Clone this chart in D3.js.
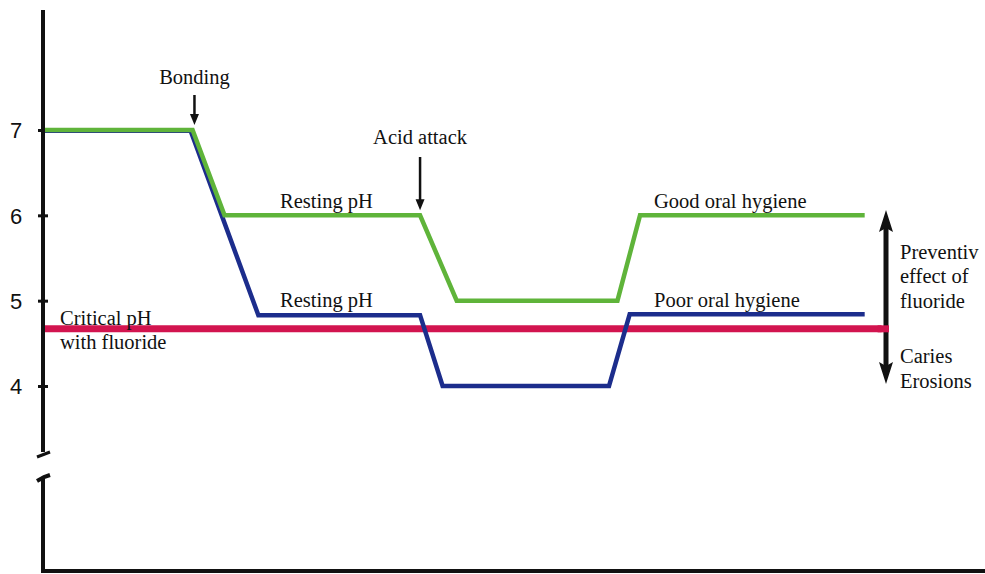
<!DOCTYPE html>
<html><head><meta charset="utf-8">
<script src="https://cdn.jsdelivr.net/npm/d3@7"></script>
<style>body{margin:0;background:#fff}svg{display:block}</style>
</head><body>
<svg id="c" width="985" height="574"></svg>
<script>
// Data
const yTicks = [4, 5, 6, 7];
const goodTime = [0, 15.7, 19.1, 39.9, 43.8, 60.9, 63.3, 87.2];
const goodPH   = [7.0, 7.0, 6.0, 6.0, 5.0, 5.0, 6.0, 6.0];
const poorTime = [0, 15.5, 22.7, 39.9, 42.3, 60.0, 62.2, 87.2];
const poorPH   = [6.99, 6.99, 4.83, 4.83, 4.0, 4.0, 4.84, 4.84];
const criticalPH = 4.67;
const criticalSpan = [0, 89];
const eventNames = ["Bonding", "Acid attack"];
const eventTimes = [15.9, 39.9];
const eventPH = [7.0, 6.0];

const svg = d3.select("#c");
const x = d3.scaleLinear().domain([0, 100]).range([45, 985]);
const y = d3.scaleLinear().domain([4, 7]).range([386, 130]);
const serif = "'Liberation Serif','Times New Roman',serif";
const fs = "20.5px";

// axes
const axX = 43;
svg.append("line").attr("x1", axX).attr("x2", axX).attr("y1", 10).attr("y2", 452)
  .attr("stroke", "#111").attr("stroke-width", 4);
svg.append("line").attr("x1", 37).attr("x2", 50).attr("y1", 457).attr("y2", 452)
  .attr("stroke", "#111").attr("stroke-width", 3);
svg.append("path").attr("d", `M37,481 L44,477 L50,475 M${axX},477 L${axX},572`)
  .attr("stroke", "#111").attr("stroke-width", 4).attr("fill", "none");
svg.append("line").attr("x1", 41).attr("x2", 985).attr("y1", 571).attr("y2", 571)
  .attr("stroke", "#111").attr("stroke-width", 4);

const yAxis = d3.axisLeft(y).tickValues(yTicks).tickSize(0).tickPadding(0).tickFormat(d3.format("d"));
const ga = svg.append("g").attr("transform", `translate(${axX},0)`).call(yAxis);
ga.select(".domain").remove();
ga.selectAll(".tick line").attr("x1", -5).attr("x2", 5).attr("stroke", "#111").attr("stroke-width", 3);
ga.selectAll(".tick text").attr("x", -27).attr("text-anchor", "middle").attr("dy", "0.36em")
  .style("font-family", "'Liberation Sans',Arial,sans-serif").style("font-size", "22px").attr("fill", "#111");

// critical line
svg.append("line").attr("x1", x(criticalSpan[0])).attr("x2", x(criticalSpan[1]))
  .attr("y1", y(criticalPH)).attr("y2", y(criticalPH))
  .attr("stroke", "#d2144f").attr("stroke-width", 7);

const line = d3.line().x(d => x(d[0])).y(d => y(d[1]));
svg.append("path").datum(poorTime.map((t, i) => [t, poorPH[i]])).attr("d", line)
  .attr("fill", "none").attr("stroke", "#1c2d8c").attr("stroke-width", 4.5);
svg.append("path").datum(goodTime.map((t, i) => [t, goodPH[i]])).attr("d", line)
  .attr("fill", "none").attr("stroke", "#5fb43a").attr("stroke-width", 4.5);

// event annotations
const evTextY = [84, 144];
const evArrowTop = [95, 157];
eventNames.forEach((n, i) => {
  const ex = x(eventTimes[i]);
  const tip = y(eventPH[i]) - 5;
  svg.append("text").attr("x", ex).attr("y", evTextY[i]).attr("text-anchor", "middle")
    .style("font-family", serif).style("font-size", fs).attr("fill", "#111").text(n);
  svg.append("line").attr("x1", ex).attr("x2", ex).attr("y1", evArrowTop[i]).attr("y2", tip - 8)
    .attr("stroke", "#111").attr("stroke-width", 2.5);
  svg.append("path").attr("d", `M${ex - 4.5},${tip - 11} L${ex + 4.5},${tip - 11} L${ex},${tip} Z`)
    .attr("fill", "#111");
});

// labels
const labels = [
  {t: "Resting pH", x: 280, y: 208},
  {t: "Resting pH", x: 280, y: 307},
  {t: "Good oral hygiene", x: 654, y: 208},
  {t: "Poor oral hygiene", x: 654, y: 307},
  {t: "Critical pH", x: 60, y: 325},
  {t: "with fluoride", x: 60, y: 349},
  {t: "Preventiv", x: 900, y: 259},
  {t: "effect of", x: 900, y: 283},
  {t: "fluoride", x: 900, y: 308},
  {t: "Caries", x: 900, y: 363},
  {t: "Erosions", x: 900, y: 388}
];
svg.selectAll("text.lab").data(labels).enter().append("text").attr("class", "lab")
  .attr("x", d => d.x).attr("y", d => d.y)
  .style("font-family", serif).style("font-size", fs).attr("fill", "#111").text(d => d.t);

// double arrow on right
const ax = 886, aTop = 210, aBot = 384;
svg.append("line").attr("x1", ax).attr("x2", ax).attr("y1", aTop + 15).attr("y2", aBot - 15)
  .attr("stroke", "#111").attr("stroke-width", 5);
svg.append("path").attr("d", `M${ax},${aTop} L${ax + 7},${aTop + 22} L${ax},${aTop + 18} L${ax - 7},${aTop + 22} Z`)
  .attr("fill", "#111");
svg.append("path").attr("d", `M${ax},${aBot} L${ax + 7},${aBot - 22} L${ax},${aBot - 18} L${ax - 7},${aBot - 22} Z`)
  .attr("fill", "#111");
svg.append("line").attr("x1", x(criticalSpan[1]) - 4).attr("x2", 889)
  .attr("y1", y(criticalPH)).attr("y2", y(criticalPH)).attr("stroke", "#d2144f").attr("stroke-width", 7);
</script>
</body></html>
